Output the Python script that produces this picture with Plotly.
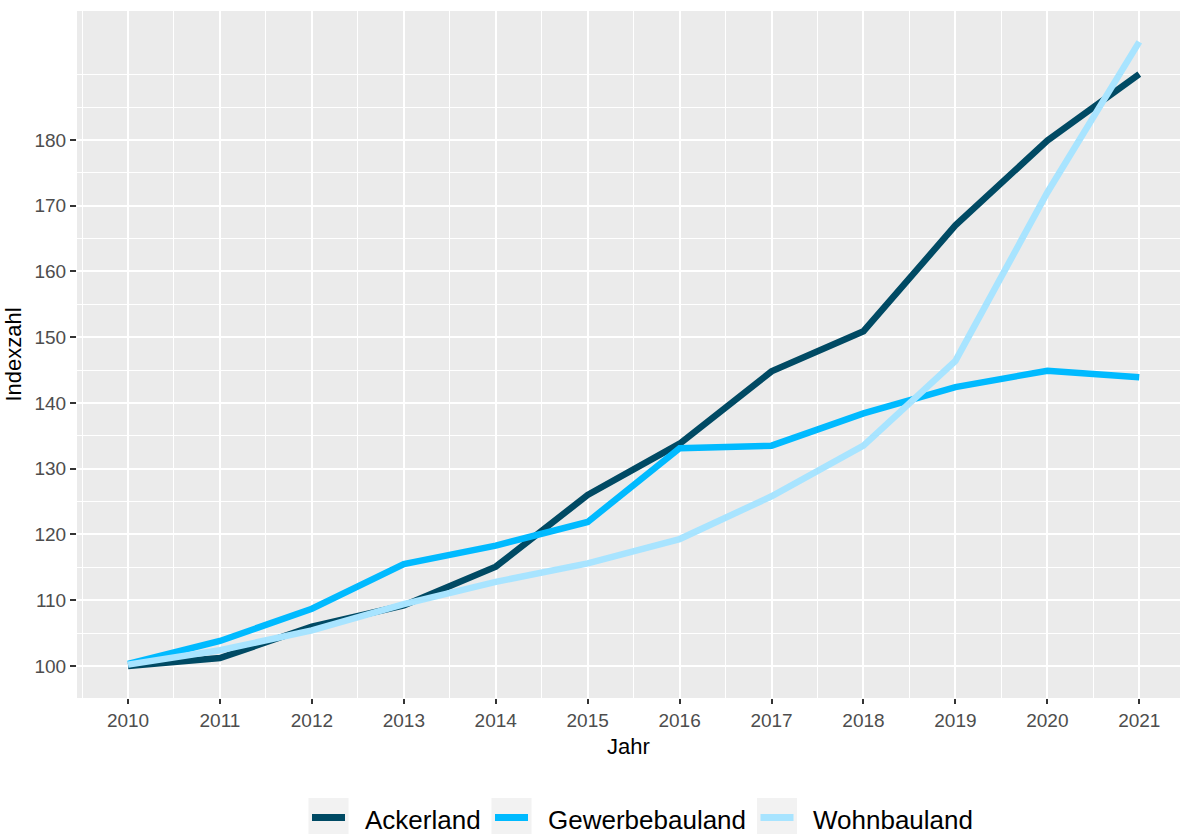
import plotly.graph_objects as go

years = list(range(2010, 2022))
ackerland = [100.0, 101.2, 106.0, 109.2, 115.1, 126.0, 133.8, 144.8, 150.9, 167.0, 179.9, 190.0]
gewerbebauland = [100.3, 103.8, 108.7, 115.5, 118.3, 121.9, 133.1, 133.5, 138.4, 142.4, 144.9, 143.9]
wohnbauland = [100.2, 102.4, 105.4, 109.4, 112.8, 115.6, 119.3, 125.8, 133.5, 146.4, 172.0, 194.9]

series_names = ["Ackerland", "Gewerbebauland", "Wohnbauland"]
series_values = [ackerland, gewerbebauland, wohnbauland]
colors = ["#004A64", "#00BAFF", "#A8E4FF"]

y_ticks = list(range(100, 190, 10))
y_minor = [105, 115, 125, 135, 145, 155, 165, 175, 185, 190]
x_minor = [y + 0.5 for y in range(2009, 2022)]

W, H = 1180, 834
ML, MR, MT, MB = 77, 0, 11, 136
PW, PH = W - ML - MR, H - MT - MB

def px2x(px):
    return (px - ML) / PW

def px2y(py):
    return 1 - (py - MT) / PH

fig = go.Figure()
for name, vals, col in zip(series_names, series_values, colors):
    fig.add_trace(go.Scatter(x=years, y=vals, mode="lines", name=name,
                             line=dict(color=col, width=6.5), showlegend=False))

font_fam = "Liberation Sans, Arial, sans-serif"

# manual ggplot-style legend
key_x = [308.5, 491.5, 757]
shapes = []
annotations = []
for kx, name, col in zip(key_x, series_names, colors):
    shapes.append(dict(type="rect", xref="paper", yref="paper",
                       x0=px2x(kx), x1=px2x(kx + 40), y0=px2y(838), y1=px2y(798),
                       fillcolor="#F2F2F2", line=dict(width=0), layer="below"))
    shapes.append(dict(type="line", xref="paper", yref="paper",
                       x0=px2x(kx + 3.5), x1=px2x(kx + 36.5), y0=px2y(817.5), y1=px2y(817.5),
                       line=dict(color=col, width=7)))
    annotations.append(dict(text=name, xref="paper", yref="paper",
                            x=px2x(kx + 54), y=px2y(820), xanchor="left", yanchor="middle",
                            showarrow=False, font=dict(size=26, color="black", family=font_fam)))

fig.update_layout(
    width=W, height=H,
    margin=dict(l=ML, r=MR, t=MT, b=MB),
    paper_bgcolor="white", plot_bgcolor="#EBEBEB",
    font=dict(family=font_fam),
    showlegend=False,
    shapes=shapes, annotations=annotations,
    xaxis=dict(range=[2009.445, 2021.443], tickmode="array", tickvals=years,
               ticktext=[str(y) for y in years],
               ticks="outside", ticklen=5, tickwidth=1.5, tickcolor="#333333",
               tickfont=dict(size=19, color="#4D4D4D"),
               showgrid=True, gridcolor="white", gridwidth=1.6,
               zeroline=False, showline=False,
               minor=dict(tickmode="array", tickvals=x_minor, showgrid=True,
                          gridcolor="white", gridwidth=0.9, ticks=""),
               title=dict(text="Jahr", font=dict(size=22, color="black"), standoff=8)),
    yaxis=dict(range=[95.13, 199.6], tickmode="array", tickvals=y_ticks,
               ticktext=[str(v) for v in y_ticks],
               ticks="outside", ticklen=6, tickwidth=1.5, tickcolor="#333333",
               tickfont=dict(size=19, color="#4D4D4D"),
               showgrid=True, gridcolor="white", gridwidth=1.6,
               zeroline=False, showline=False,
               minor=dict(tickmode="array", tickvals=y_minor, showgrid=True,
                          gridcolor="white", gridwidth=0.9, ticks=""),
               title=dict(text="Indexzahl", font=dict(size=22, color="black"), standoff=6)),
)

fig.write_html("out.html", config={"displayModeBar": False},
               post_script="document.body.style.margin='0';document.body.style.overflow='hidden';")
